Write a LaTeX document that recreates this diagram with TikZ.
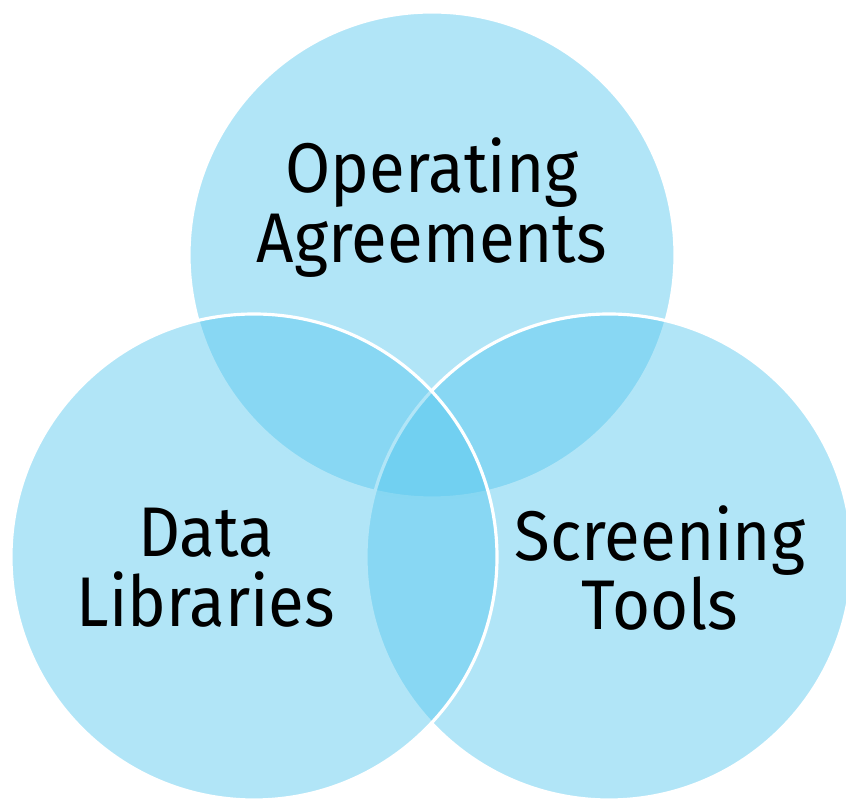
\documentclass[tikz,border=0pt]{standalone}
\usepackage{fontspec}
\setmainfont[FakeStretch=0.93]{Fira Sans}
\usepackage{xcolor}
\usepackage{tikz}
\definecolor{vennblue}{RGB}{86,199,238}
\tikzset{
	vennset/.style={fill=vennblue, fill opacity=0.46, draw=white, line width=0.9pt},
	vennlabel/.style={align=center, text=black, font=\fontsize{20pt}{19.9pt}\selectfont},
}
\begin{document}
\begin{tikzpicture}
			\useasboundingbox (0, 0) rectangle (8.46, 8.00);
			\draw[vennset] (4.32, 5.45) circle (2.43);
			\draw[vennset] (6.09, 2.43) circle (2.43);
			\draw[vennset] (2.54, 2.43) circle (2.43);
			\node[vennlabel] (agreements) at (4.32, 5.92) {Operating\\Agreements};
			\node[vennlabel] (libraries) at (2.06, 2.32) {Data\\Libraries};
			\node[vennlabel] (tools) at (6.60, 2.32) {Screening\\Tools};
		\end{tikzpicture}
\end{document}
